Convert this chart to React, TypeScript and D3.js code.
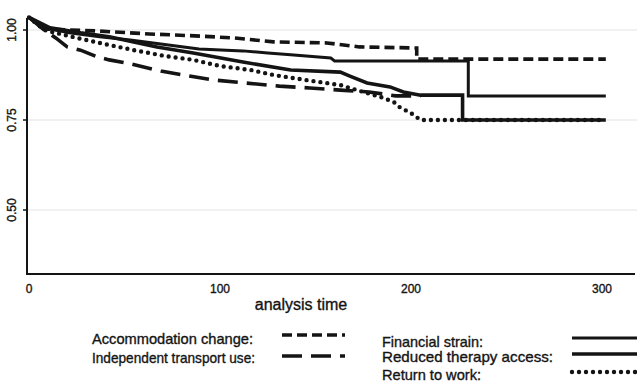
import React from "react";
import * as d3 from "d3";

const xTicks = [0, 100, 200, 300];
const yTicks = [0.5, 0.75, 1.0];
const xLabel = "analysis time";

const accomT = [0, 8, 37, 63, 90, 107, 128, 156, 173, 203, 203, 302];
const accomS = [1.035, 1.003, 0.997, 0.989, 0.983, 0.978, 0.967, 0.964, 0.953, 0.95, 0.919, 0.919];

const finT = [0, 8, 21, 37, 53, 69, 89, 112, 125, 137, 158, 160, 230, 230, 302];
const finS = [1.035, 1.006, 0.992, 0.981, 0.972, 0.961, 0.947, 0.942, 0.936, 0.931, 0.922, 0.914, 0.914, 0.817, 0.817];

const redT = [0, 11, 27, 42, 67, 86, 112, 137, 163, 168, 177, 189, 196, 205, 227, 227, 302];
const redS = [1.035, 1.006, 0.992, 0.981, 0.953, 0.936, 0.911, 0.889, 0.883, 0.872, 0.853, 0.842, 0.828, 0.819, 0.819, 0.75, 0.75];

const retT = [0, 8, 21, 37, 55, 71, 86, 100, 116, 128, 145, 163, 173, 184, 191, 194, 200, 205, 302];
const retS = [1.035, 1.0, 0.983, 0.964, 0.944, 0.928, 0.917, 0.9, 0.889, 0.875, 0.861, 0.847, 0.831, 0.814, 0.8, 0.786, 0.769, 0.75, 0.75];

const indT = [0, 8, 14, 20, 27, 36, 42, 53, 69, 84, 97, 113, 131, 147, 163, 178, 192, 205];
const indS = [1.035, 1.0, 0.978, 0.953, 0.944, 0.925, 0.917, 0.906, 0.886, 0.872, 0.861, 0.853, 0.844, 0.839, 0.833, 0.828, 0.817, 0.817];

const seriesNames = [
  "Accommodation change",
  "Independent transport use",
  "Financial strain",
  "Reduced therapy access",
  "Return to work",
];

const INK = "#141414";
const FONT = "'Liberation Sans', Arial, Helvetica, sans-serif";

export default function App() {
  const W = 637;
  const H = 392;
  const x = d3.scaleLinear().domain([0, 300]).range([29, 602]);
  const y = d3.scaleLinear().domain([0.5, 1]).range([210, 30]);

  const line = d3
    .line<[number, number]>()
    .x((d) => x(d[0]))
    .y((d) => y(d[1]));

  const zip = (t: number[], s: number[]) => t.map((v, i) => [v, s[i]] as [number, number]);

  const styles: Record<string, { dash?: string; w: number; cap: string }> = {
    "Accommodation change": { dash: "10,5", w: 3.6, cap: "butt" },
    "Independent transport use": { dash: "20,9", w: 3.6, cap: "butt" },
    "Financial strain": { w: 3, cap: "butt" },
    "Reduced therapy access": { w: 3.6, cap: "butt" },
    "Return to work": { dash: "0,7", w: 4.4, cap: "round" },
  };

  const series = [
    { name: seriesNames[0], pts: zip(accomT, accomS) },
    { name: seriesNames[1], pts: zip(indT, indS) },
    { name: seriesNames[2], pts: zip(finT, finS) },
    { name: seriesNames[3], pts: zip(redT, redS) },
    { name: seriesNames[4], pts: zip(retT, retS) },
  ];

  const legend = [
    { name: seriesNames[0], tx: 92, ty: 343.5, lx: 282, lx2: 345, ly: 335, tl: 161 },
    { name: seriesNames[1], tx: 92, ty: 363, lx: 282, lx2: 345, ly: 356, tl: 163 },
    { name: seriesNames[2], tx: 382, ty: 346.5, lx: 572, lx2: 637, ly: 338, tl: 101 },
    { name: seriesNames[3], tx: 382, ty: 362, lx: 572, lx2: 637, ly: 354, tl: 171 },
    { name: seriesNames[4], tx: 382, ty: 380, lx: 572, lx2: 637, ly: 372, tl: 99 },
  ];

  const bold = { stroke: INK, strokeWidth: 0.35 };

  return (
    <svg
      width={W}
      height={H}
      style={{ position: "absolute", left: 0, top: 0, background: "#fff" }}
      fontFamily={FONT}
    >
      <rect x={0} y={0} width={W} height={H} fill="#fff" />
      {yTicks.map((t) => (
        <line key={"g" + t} x1={27} x2={637} y1={y(t)} y2={y(t)} stroke="#ececec" strokeWidth={1.5} />
      ))}
      {series.map((s) => {
        const st = styles[s.name];
        return (
          <path
            key={s.name}
            d={line(s.pts) || ""}
            fill="none"
            stroke={INK}
            strokeWidth={st.w}
            strokeDasharray={st.dash}
            strokeLinecap={st.cap as any}
            strokeLinejoin="miter"
          />
        );
      })}
      <line x1={27} x2={27} y1={18} y2={274} stroke={INK} strokeWidth={2} />
      <line x1={26} x2={635} y1={274} y2={274} stroke={INK} strokeWidth={2} />
      {yTicks.map((t) => (
        <g key={"yt" + t}>
          <line x1={23} x2={27} y1={y(t)} y2={y(t)} stroke={INK} strokeWidth={1.5} />
          <text
            transform={`translate(15.5,${y(t)}) rotate(-90)`}
            textAnchor="middle"
            fontSize={12}
            fill={INK}
            {...bold}
          >
            {t.toFixed(2)}
          </text>
        </g>
      ))}
      {xTicks.map((t) => (
        <text key={"xt" + t} x={x(t)} y={293} textAnchor="middle" fontSize={12} fill={INK} {...bold}>
          {t}
        </text>
      ))}
      <text x={301} y={309.5} textAnchor="middle" fontSize={16} fill={INK} {...bold}>
        {xLabel}
      </text>
      {legend.map((l) => {
        const st = styles[l.name];
        return (
          <g key={"lg" + l.name}>
            <text
              x={l.tx}
              y={l.ty}
              fontSize={15}
              fill={INK}
              textLength={l.tl}
              lengthAdjust="spacingAndGlyphs"
              {...bold}
            >
              {l.name + ":"}
            </text>
            <line
              x1={l.lx}
              x2={l.lx2}
              y1={l.ly}
              y2={l.ly}
              stroke={INK}
              strokeWidth={st.w}
              strokeDasharray={st.dash}
              strokeLinecap={st.cap as any}
            />
          </g>
        );
      })}
    </svg>
  );
}
